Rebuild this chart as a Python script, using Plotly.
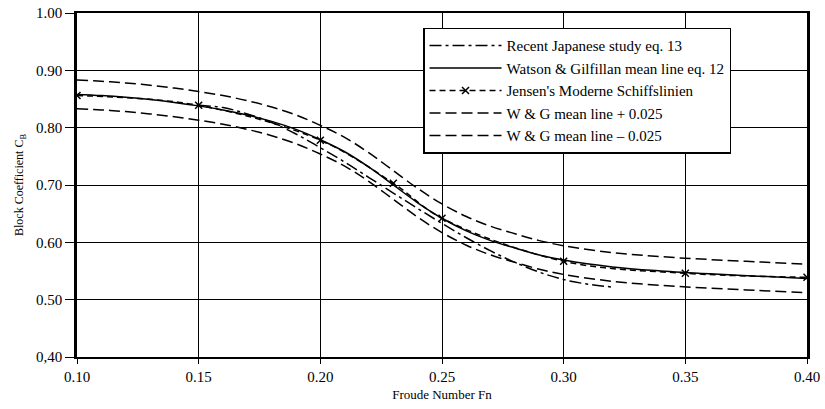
import plotly.graph_objects as go

# Froude numbers for the Watson & Gilfillan curves
fn_wg = [0.10, 0.11, 0.12, 0.13, 0.14, 0.15, 0.16, 0.17, 0.18, 0.19, 0.20,
         0.21, 0.22, 0.23, 0.24, 0.25, 0.26, 0.27, 0.28, 0.29, 0.30,
         0.32, 0.34, 0.36, 0.38, 0.40]
wg_mean = [0.858, 0.856, 0.853, 0.849, 0.844, 0.838, 0.831, 0.822, 0.811, 0.797, 0.779,
           0.758, 0.731, 0.700, 0.669, 0.642, 0.620, 0.603, 0.590, 0.578, 0.569,
           0.557, 0.550, 0.545, 0.541, 0.537]
wg_plus = [0.883, 0.881, 0.878, 0.874, 0.869, 0.863, 0.856, 0.847, 0.836, 0.822, 0.804,
           0.783, 0.756, 0.725, 0.694, 0.667, 0.645, 0.628, 0.615, 0.603, 0.594,
           0.582, 0.575, 0.570, 0.566, 0.562]
wg_minus = [0.833, 0.831, 0.828, 0.824, 0.819, 0.813, 0.806, 0.797, 0.786, 0.772, 0.754,
            0.733, 0.706, 0.675, 0.644, 0.617, 0.595, 0.578, 0.565, 0.553, 0.544,
            0.532, 0.525, 0.520, 0.516, 0.512]

# Recent Japanese study eq. 13
fn_jp = [0.15, 0.16, 0.17, 0.18, 0.19, 0.20, 0.21, 0.22, 0.23, 0.24, 0.25,
         0.26, 0.27, 0.28, 0.29, 0.30, 0.31, 0.32]
cb_jp = [0.839, 0.835, 0.824, 0.809, 0.789, 0.765, 0.740, 0.713, 0.686, 0.659, 0.633,
         0.608, 0.585, 0.565, 0.548, 0.535, 0.527, 0.522]

# Jensen's Moderne Schiffslinien
fn_js = [0.10, 0.15, 0.20, 0.23, 0.25, 0.30, 0.35, 0.40]
cb_js = [0.856, 0.839, 0.778, 0.703, 0.642, 0.567, 0.546, 0.539]

y_ticks = [0.40, 0.50, 0.60, 0.70, 0.80, 0.90, 1.00]
y_ticktext = ["0,40", "0.50", "0.60", "0.70", "0.80", "0.90", "1.00"]
x_ticks = [0.10, 0.15, 0.20, 0.25, 0.30, 0.35, 0.40]
x_ticktext = ["0.10", "0.15", "0.20", "0.25", "0.30", "0.35", "0.40"]

FONT = "Liberation Serif, Times New Roman, serif"
LW = 1.5

fig = go.Figure()
fig.add_trace(go.Scatter(x=fn_jp, y=cb_jp, mode="lines", name="Recent Japanese study eq. 13",
                         line=dict(color="black", width=LW, dash="12px,4px,3px,4px"),
                         line_shape="spline", legendgroup="a"))
fig.add_trace(go.Scatter(x=fn_wg, y=wg_mean, mode="lines", name="Watson & Gilfillan mean line eq. 12",
                         line=dict(color="black", width=LW), line_shape="spline",
                         legendgroup="b"))
fig.add_trace(go.Scatter(x=fn_js, y=cb_js, mode="lines+markers", name="Jensen's Moderne Schiffslinien",
                         line=dict(color="black", width=LW, dash="6px,4px"), line_shape="spline",
                         marker=dict(symbol="x-thin", size=7, line=dict(color="black", width=1.5)),
                         legendgroup="c"))
fig.add_trace(go.Scatter(x=fn_wg, y=wg_plus, mode="lines", name="W & G mean line + 0.025",
                         line=dict(color="black", width=LW, dash="11px,5px"), line_shape="spline",
                         legendgroup="d"))
fig.add_trace(go.Scatter(x=fn_wg, y=wg_minus, mode="lines", name="W & G mean line \u2013 0.025",
                         line=dict(color="black", width=LW, dash="11px,5px"), line_shape="spline",
                         legendgroup="e"))

fig.update_layout(
    width=825, height=409,
    margin=dict(l=77, r=18, t=13, b=52),
    paper_bgcolor="white", plot_bgcolor="white",
    font=dict(family=FONT, color="black", size=13),
    showlegend=True,
    legend=dict(x=0.474, y=0.957, xanchor="left", yanchor="top",
                bgcolor="white", bordercolor="black", borderwidth=1.5,
                font=dict(family=FONT, size=15, color="black"),
                itemwidth=72, traceorder="grouped", tracegroupgap=0),
    xaxis=dict(range=[0.10, 0.40], tickvals=x_ticks, ticktext=x_ticktext,
               showgrid=True, gridcolor="black", gridwidth=1.3,
               showline=True, linecolor="black", linewidth=2, mirror=True,
               ticks="outside", ticklen=5, tickcolor="black",
               tickfont=dict(family=FONT, size=15), ticklabelstandoff=0,
               zeroline=False, automargin=False,
               title=dict(text="Froude Number Fn", font=dict(family=FONT, size=13), standoff=6)),
    yaxis=dict(range=[0.40, 1.00], tickvals=y_ticks, ticktext=y_ticktext,
               showgrid=True, gridcolor="black", gridwidth=1.3,
               showline=True, linecolor="black", linewidth=2.5, mirror=True,
               ticks="outside", ticklen=9, tickcolor="black",
               tickfont=dict(family=FONT, size=15),
               zeroline=False, automargin=False,
               title=dict(text="Block Coefficient C<sub>B</sub>", font=dict(family=FONT, size=12), standoff=10)),
)

fig.write_html("out.html")
